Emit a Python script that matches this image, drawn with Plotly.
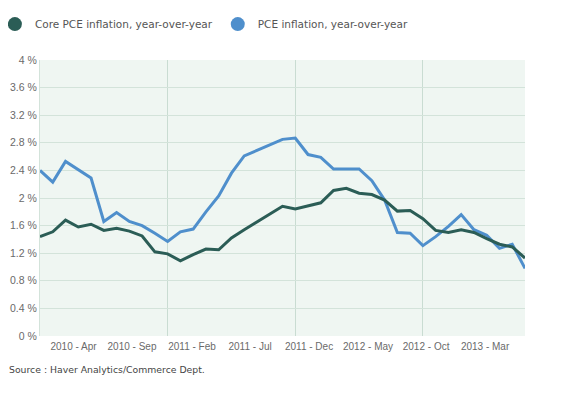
import plotly.graph_objects as go

months = list(range(39))  # Jan 2010 .. Mar 2013, monthly index

core_pce = [1.44, 1.51, 1.68, 1.58, 1.62, 1.53, 1.56, 1.52, 1.45, 1.22,
            1.19, 1.09, 1.18, 1.26, 1.25, 1.42, 1.54, 1.65, 1.76, 1.88,
            1.84, 1.89, 1.93, 2.11, 2.14, 2.07, 2.05, 1.97, 1.81, 1.82,
            1.70, 1.53, 1.50, 1.54, 1.50, 1.41, 1.33, 1.29, 1.13]

pce = [2.40, 2.23, 2.53, 2.41, 2.29, 1.66, 1.79, 1.66, 1.60, 1.49,
       1.37, 1.51, 1.55, 1.80, 2.03, 2.36, 2.61, 2.69, 2.77, 2.85,
       2.87, 2.63, 2.59, 2.42, 2.42, 2.42, 2.25, 1.97, 1.50, 1.49,
       1.31, 1.44, 1.59, 1.76, 1.54, 1.46, 1.27, 1.33, 0.98]

tick_labels = ["2010 - Apr", "2010 - Sep", "2011 - Feb", "2011 - Jul",
               "2011 - Dec", "2012 - May", "2012 - Oct", "2013 - Mar"]
tick_positions = [2.63, 7.21, 11.91, 16.46, 21.08, 25.70, 30.25, 34.87]
grid_positions = [10, 20, 30]

y_ticks = [0, 0.4, 0.8, 1.2, 1.6, 2.0, 2.4, 2.8, 3.2, 3.6, 4.0]
y_labels = ["0 %", "0.4 %", "0.8 %", "1.2 %", "1.6 %", "2 %", "2.4 %",
            "2.8 %", "3.2 %", "3.6 %", "4 %"]

CORE_COLOR = "#2b5d56"
PCE_COLOR = "#4f8fcc"
GRID = "#d3e3da"

fig = go.Figure()
fig.add_trace(go.Scatter(x=months, y=pce, mode="lines", showlegend=False,
                         line=dict(color=PCE_COLOR, width=3), name="PCE inflation, year-over-year"))
fig.add_trace(go.Scatter(x=months, y=core_pce, mode="lines", showlegend=False,
                         line=dict(color=CORE_COLOR, width=3), name="Core PCE inflation, year-over-year"))
# legend entries (circle markers)
fig.add_trace(go.Scatter(x=[None], y=[None], mode="markers", name="Core PCE inflation, year-over-year",
                         marker=dict(color=CORE_COLOR, size=14, symbol="circle")))
fig.add_trace(go.Scatter(x=[None], y=[None], mode="markers", name="PCE inflation, year-over-year",
                         marker=dict(color=PCE_COLOR, size=14, symbol="circle")))

fig.update_layout(
    width=561, height=390,
    margin=dict(l=32, r=44, t=52, b=62, autoexpand=False),
    paper_bgcolor="white",
    plot_bgcolor="#eff6f2",
    showlegend=True,
    legend=dict(orientation="h", x=-0.093, xanchor="left", y=1.13, yanchor="middle",
                font=dict(family="DejaVu Sans", size=10.5, color="#555555"),
                bgcolor="rgba(0,0,0,0)", itemclick=False),
    xaxis=dict(range=[0, 38], tickvals=tick_positions, ticktext=tick_labels,
               showgrid=False, zeroline=False, showline=False, ticks="", automargin=False,
               ticklabelstandoff=3,
               tickfont=dict(family="Liberation Sans", size=10, color="#6a6a6a"),
               minor=dict(tickvals=grid_positions, showgrid=True, gridcolor="#c9dcd2",
                          gridwidth=1, ticks="")),
    yaxis=dict(range=[0, 4], tickvals=y_ticks, ticktext=y_labels, automargin=False,
               showgrid=True, gridcolor=GRID, gridwidth=1, zeroline=False,
               showline=True, linecolor=GRID, ticks="", ticklabelstandoff=0,
               tickfont=dict(family="Liberation Sans", size=10.5, color="#6a6a6a")),
    annotations=[dict(text="Source : Haver Analytics/Commerce Dept.", xref="paper", yref="paper",
                      x=-0.068, y=-0.121, xanchor="left", yanchor="middle", showarrow=False,
                      font=dict(family="DejaVu Sans", size=9.3, color="#444444"))],
)

fig.write_html("out.html")
